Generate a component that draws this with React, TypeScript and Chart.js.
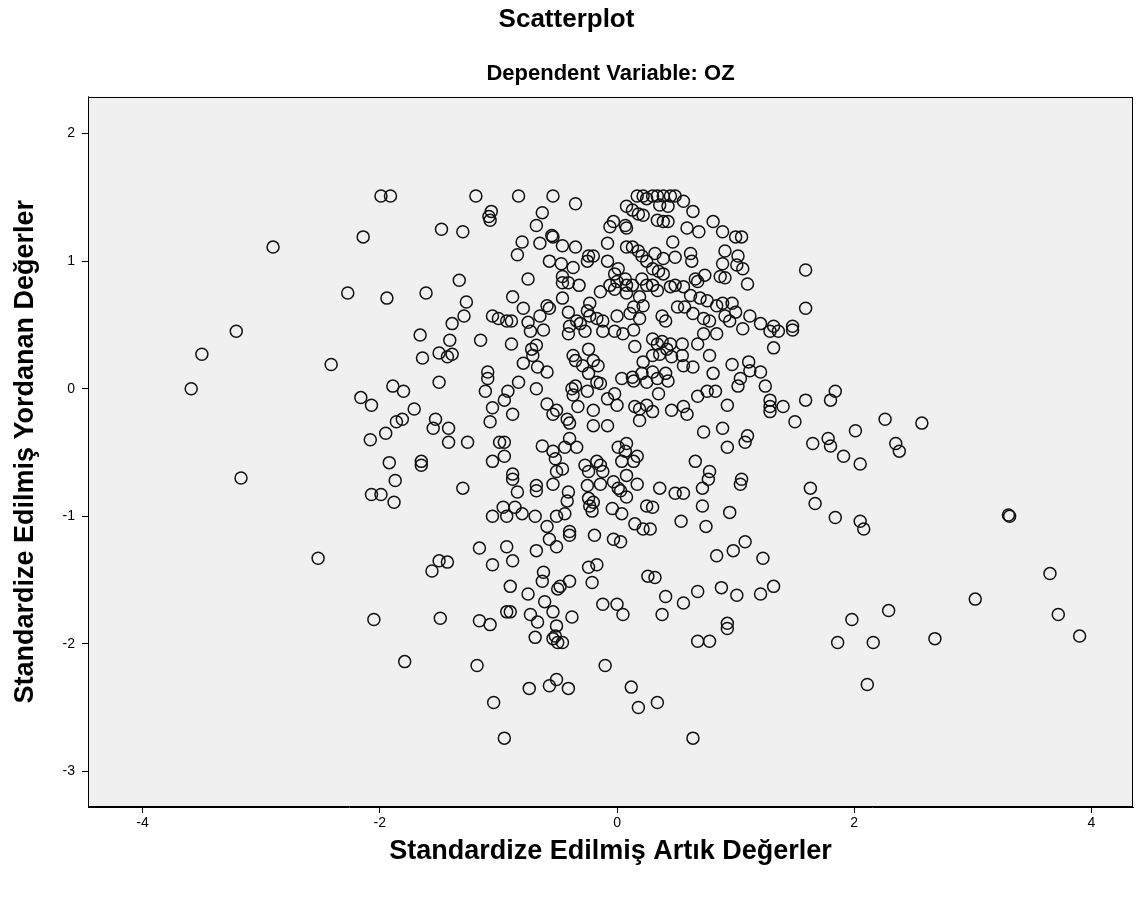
import React, { useEffect, useRef } from 'react';
import { Chart, registerables } from 'chart.js';

Chart.register(...registerables);

const chartTitle = 'Scatterplot';
const chartSubtitle = 'Dependent Variable: OZ';
const xAxisTitle = 'Standardize Edilmiş Artık Değerler';
const yAxisTitle = 'Standardize Edilmiş Yordanan Değerler';

const xTickValues = [-4, -2, 0, 2, 4];
const yTickValues = [-3, -2, -1, 0, 1, 2];
const xRange = [-4.46, 4.35];
const yRange = [-3.28, 2.29];

// [standardized residual, standardized predicted value]
const leftPoints: [number, number][] = [
  [-3.59, 0.0], [-3.5, 0.27], [-3.21, 0.45], [-3.17, -0.7], [-2.9, 1.11], [-2.52, -1.33], [-2.27, 0.75], [-2.41, 0.19],
  [-2.14, 1.19], [-2.16, -0.07], [-2.07, -0.13], [-2.08, -0.4], [-2.07, -0.83], [-1.99, -0.83], [-2.05, -1.81], [-1.99, 1.51],
  [-1.91, 1.51], [-1.94, 0.71], [-1.95, -0.35], [-1.92, -0.58], [-1.89, 0.02], [-1.87, -0.72], [-1.88, -0.89], [-1.86, -0.26],
  [-1.81, -0.24], [-1.8, -0.02], [-1.79, -2.14], [-1.71, -0.16],
  [-1.19, 1.51], [-1.06, 1.39], [-1.08, 1.35], [-1.07, 1.32], [-1.48, 1.25], [-1.3, 1.23], [-1.33, 0.85], [-1.61, 0.75],
  [-1.27, 0.68], [-1.29, 0.57], [-1.39, 0.51], [-1.05, 0.57], [-1.0, 0.55],
  [-1.66, 0.42], [-1.41, 0.38], [-1.15, 0.38], [-1.64, 0.24], [-1.5, 0.28], [-1.43, 0.25], [-1.39, 0.27], [-1.09, 0.13],
  [-1.09, 0.08], [-1.11, -0.02], [-1.5, 0.05],
  [-1.53, -0.24], [-1.55, -0.31], [-1.42, -0.31], [-1.42, -0.42], [-1.26, -0.42], [-1.05, -0.15], [-1.07, -0.26], [-1.65, -0.57],
  [-1.65, -0.6], [-1.05, -0.57], [-0.99, -0.42],
  [-1.3, -0.78], [-1.05, -1.0], [-1.16, -1.25], [-1.05, -1.38], [-1.5, -1.35], [-1.43, -1.36], [-1.56, -1.43], [-1.49, -1.8],
  [-1.16, -1.82], [-1.07, -1.85], [-1.18, -2.17], [-1.04, -2.46], [-0.95, -2.74],
];

const upperCenterPoints: [number, number][] = [
  [-0.83, 1.51], [-0.54, 1.51], [-0.35, 1.45], [-0.63, 1.38], [-0.68, 1.28], [-0.55, 1.2], [-0.54, 1.19], [-0.8, 1.15],
  [-0.84, 1.05], [-0.65, 1.14], [-0.46, 1.12], [-0.35, 1.11], [-0.24, 1.04], [-0.2, 1.04], [-0.25, 1.0], [-0.08, 1.14],
  [-0.03, 1.31], [-0.06, 1.27], [0.07, 1.28], [0.08, 1.26], [0.08, 1.43], [0.13, 1.4], [0.17, 1.51], [0.22, 1.51],
  [0.25, 1.49], [0.18, 1.37], [0.22, 1.36],
  [-0.57, 1.0], [-0.47, 0.98], [-0.37, 0.95], [-0.75, 0.86], [-0.46, 0.88], [-0.41, 0.83], [-0.46, 0.83], [-0.32, 0.81],
  [-0.88, 0.72], [-0.79, 0.63], [-0.59, 0.65], [-0.57, 0.63], [-0.46, 0.71], [-0.41, 0.6], [-0.65, 0.57], [-0.93, 0.53],
  [-0.89, 0.53], [-0.75, 0.52], [-0.34, 0.53], [-0.23, 0.67], [-0.14, 0.76], [-0.06, 0.81], [-0.02, 0.78], [0.0, 0.84],
  [-0.02, 0.9], [0.01, 0.94], [-0.08, 1.0], [0.08, 1.11], [0.13, 1.11], [0.18, 1.08], [0.21, 1.04], [0.25, 1.0],
  [0.07, 0.86], [0.08, 0.81], [0.13, 0.81], [0.08, 0.75], [0.21, 0.86], [0.25, 0.81], [0.19, 0.72], [0.22, 0.65],
  [0.14, 0.64], [0.11, 0.59], [-0.25, 0.61], [-0.23, 0.57], [-0.17, 0.55], [-0.12, 0.53], [0.0, 0.57], [0.19, 0.55],
  [-0.31, 0.51], [-0.4, 0.49],
  [0.3, 1.51], [0.34, 1.51], [0.39, 1.51], [0.45, 1.51], [0.49, 1.51], [0.56, 1.47], [0.64, 1.39], [0.36, 1.44],
  [0.43, 1.43], [0.34, 1.32], [0.39, 1.31], [0.43, 1.31], [0.59, 1.26], [0.69, 1.23], [0.81, 1.31], [0.89, 1.23],
  [1.0, 1.19], [1.05, 1.19], [0.47, 1.15], [0.32, 1.06], [0.39, 1.02], [0.62, 1.06], [0.63, 1.0], [0.49, 1.03],
  [0.91, 1.08], [0.89, 0.98], [1.02, 1.04], [1.01, 0.97], [1.06, 0.94], [0.74, 0.89], [0.87, 0.88], [0.91, 0.87],
  [1.1, 0.82], [0.66, 0.86], [0.68, 0.84], [0.35, 0.92], [0.39, 0.9], [0.3, 0.94], [0.3, 0.81], [0.34, 0.77],
  [0.45, 0.8], [0.49, 0.81], [0.56, 0.8], [0.62, 0.73], [0.7, 0.71], [0.76, 0.69], [0.51, 0.64], [0.57, 0.64],
  [0.64, 0.59], [0.84, 0.65], [0.89, 0.67], [0.97, 0.67], [0.91, 0.57], [1.0, 0.6], [1.12, 0.57], [0.38, 0.57],
  [0.41, 0.53], [0.73, 0.55], [0.78, 0.53], [0.95, 0.53], [1.21, 0.51], [1.32, 0.49], [1.48, 0.49], [1.59, 0.93],
  [1.59, 0.63],
];

const middleCenterPoints: [number, number][] = [
  [-0.89, 0.35], [-0.73, 0.45], [-0.62, 0.46], [-0.72, 0.31], [-0.68, 0.34], [-0.71, 0.26], [-0.79, 0.2], [-0.67, 0.17],
  [-0.59, 0.13], [-0.83, 0.05], [-0.92, -0.02], [-0.95, -0.09], [-0.88, -0.2], [-0.68, 0.0], [-0.59, -0.12], [-0.54, -0.2],
  [-0.51, -0.17], [-0.42, -0.24], [-0.4, -0.27], [-0.38, 0.0], [-0.37, -0.05], [-0.35, 0.02], [-0.33, -0.14], [-0.25, -0.02],
  [-0.37, 0.26], [-0.35, 0.22], [-0.41, 0.43], [-0.27, 0.45], [-0.24, 0.31], [-0.29, 0.18], [-0.2, 0.22], [-0.16, 0.18],
  [-0.24, 0.12], [-0.17, 0.05], [-0.14, 0.04], [-0.2, -0.17], [-0.2, -0.29], [-0.08, -0.29], [-0.08, -0.08], [-0.02, -0.04],
  [0.0, -0.13], [-0.12, 0.45], [-0.02, 0.45], [0.05, 0.43], [0.14, 0.46], [0.15, 0.33], [0.04, 0.08], [0.13, 0.09],
  [0.14, 0.06], [0.21, 0.12], [0.25, 0.05], [0.22, 0.21], [0.15, -0.14], [0.19, -0.16], [0.25, -0.13], [0.19, -0.25],
  [-0.95, -0.42], [-0.95, -0.53], [-0.88, -0.67], [-0.63, -0.45], [-0.54, -0.49], [-0.52, -0.55], [-0.44, -0.46], [-0.4, -0.39],
  [-0.34, -0.46], [-0.46, -0.63], [-0.51, -0.65], [-0.27, -0.6], [-0.17, -0.57], [-0.14, -0.6], [-0.12, -0.65], [-0.24, -0.65],
  [0.01, -0.46], [0.08, -0.43], [0.07, -0.49], [0.04, -0.57], [0.17, -0.53], [0.14, -0.57], [0.08, -0.68],
  [0.3, 0.39], [0.34, 0.35], [0.38, 0.37], [0.3, 0.26], [0.36, 0.27], [0.42, 0.31], [0.45, 0.35], [0.46, 0.25],
  [0.55, 0.35], [0.55, 0.26], [0.56, 0.18], [0.64, 0.17], [0.68, 0.35], [0.78, 0.26], [0.73, 0.43], [0.84, 0.43],
  [1.06, 0.47], [1.29, 0.45], [1.36, 0.45], [1.48, 0.46], [1.32, 0.32], [0.97, 0.19], [1.11, 0.21], [1.12, 0.14],
  [1.21, 0.13], [1.04, 0.08], [1.02, 0.02], [0.81, 0.12], [0.3, 0.13], [0.34, 0.08], [0.41, 0.12], [0.43, 0.06],
  [0.35, -0.04], [0.76, -0.02], [0.83, -0.02], [0.68, -0.06], [1.25, 0.02], [1.29, -0.09], [1.29, -0.14], [1.29, -0.18],
  [1.4, -0.14], [1.5, -0.26], [0.46, -0.17], [0.56, -0.14], [0.59, -0.2], [0.3, -0.18], [0.93, -0.13], [0.73, -0.34],
  [0.89, -0.31], [1.1, -0.37], [1.08, -0.42], [0.93, -0.46], [0.66, -0.57], [0.78, -0.65], [1.05, -0.71],
];

const lowerCenterPoints: [number, number][] = [
  [-0.88, -0.71], [-0.68, -0.76], [-0.68, -0.8], [-0.54, -0.75], [-0.41, -0.81], [-0.42, -0.88], [-0.25, -0.76], [-0.14, -0.75],
  [-0.03, -0.73], [0.01, -0.78], [0.17, -0.75], [-0.84, -0.81], [-0.96, -0.93], [-0.93, -1.0], [-0.86, -0.93], [-0.8, -0.98],
  [-0.69, -1.0], [-0.59, -1.08], [-0.51, -1.0], [-0.44, -0.98], [-0.24, -0.86], [-0.23, -0.92], [-0.21, -0.96], [-0.2, -0.89],
  [-0.04, -0.94], [0.04, -0.98], [0.08, -0.85], [0.03, -0.8], [0.15, -1.06], [0.22, -1.1], [0.25, -0.92], [-0.4, -1.12],
  [-0.4, -1.15], [-0.57, -1.18], [-0.51, -1.24], [-0.19, -1.15], [-0.03, -1.18], [0.03, -1.2], [-0.93, -1.24], [-0.88, -1.35],
  [-0.68, -1.27], [-0.24, -1.4], [-0.17, -1.38], [-0.21, -1.52], [-0.62, -1.44], [-0.63, -1.51], [-0.9, -1.55], [-0.75, -1.61],
  [-0.5, -1.57], [-0.48, -1.55], [-0.4, -1.51], [-0.61, -1.67], [-0.93, -1.75], [-0.9, -1.75], [-0.73, -1.77], [-0.54, -1.75],
  [-0.38, -1.79], [-0.67, -1.83], [-0.51, -1.86], [-0.12, -1.69], [0.0, -1.69], [0.05, -1.77], [0.26, -1.47],
  [0.36, -0.78], [0.49, -0.82], [0.56, -0.82], [0.72, -0.78], [0.77, -0.71], [1.04, -0.75], [0.3, -0.93], [0.72, -0.92],
  [0.54, -1.04], [0.75, -1.08], [0.95, -0.97], [0.28, -1.1], [0.84, -1.31], [0.98, -1.27], [1.08, -1.2], [1.23, -1.33],
  [0.32, -1.48], [0.41, -1.63], [0.56, -1.68], [0.68, -1.59], [0.88, -1.56], [1.01, -1.62], [1.21, -1.61], [1.32, -1.55],
  [0.38, -1.77], [0.93, -1.84],
  [-0.69, -1.95], [-0.54, -1.96], [-0.5, -1.99], [-0.46, -1.99], [-0.52, -1.94], [-0.1, -2.17], [-0.74, -2.35], [-0.57, -2.33],
  [-0.51, -2.28], [-0.41, -2.35], [0.12, -2.34], [0.18, -2.5], [0.68, -1.98], [0.78, -1.98], [0.93, -1.88], [0.34, -2.46],
  [0.64, -2.74],
];

const rightPoints: [number, number][] = [
  [1.59, -0.09], [1.8, -0.09], [1.84, -0.02], [1.78, -0.39], [1.8, -0.45], [1.65, -0.43], [1.91, -0.53], [2.01, -0.33],
  [2.05, -0.59], [2.26, -0.24], [2.35, -0.43], [2.38, -0.49], [2.57, -0.27], [1.63, -0.78], [1.67, -0.9], [1.84, -1.01],
  [2.05, -1.04], [2.08, -1.1], [3.3, -0.99], [3.31, -1.0], [3.65, -1.45], [3.72, -1.77], [3.9, -1.94], [3.02, -1.65],
  [2.29, -1.74], [1.98, -1.81], [1.86, -1.99], [2.16, -1.99], [2.68, -1.96], [2.11, -2.32],
];

const allPoints = [...leftPoints, ...upperCenterPoints, ...middleCenterPoints, ...lowerCenterPoints, ...rightPoints];

const FONT = "'Liberation Sans', Arial, sans-serif";

const plotFrame = {
  id: 'plotFrame',
  beforeDatasetsDraw(chart: any) {
    const { ctx, chartArea } = chart;
    ctx.save();
    ctx.fillStyle = '#F0F0F0';
    ctx.fillRect(chartArea.left, chartArea.top, chartArea.right - chartArea.left, chartArea.bottom - chartArea.top);
    ctx.restore();
  },
  afterDraw(chart: any) {
    const { ctx, chartArea } = chart;
    ctx.save();
    ctx.strokeStyle = '#000';
    ctx.lineWidth = 1;
    ctx.strokeRect(
      Math.round(chartArea.left) + 0.5,
      Math.round(chartArea.top) + 0.5,
      Math.round(chartArea.right - chartArea.left) - 1,
      Math.round(chartArea.bottom - chartArea.top) - 1
    );
    ctx.restore();
  },
};

export default function App() {
  const canvasRef = useRef<HTMLCanvasElement | null>(null);

  useEffect(() => {
    if (!canvasRef.current) return;
    const chart = new Chart(canvasRef.current, {
      type: 'scatter',
      data: {
        datasets: [
          {
            data: allPoints.map(([x, y]) => ({ x, y })),
            pointStyle: 'circle',
            pointRadius: 6,
            pointHoverRadius: 6,
            borderColor: '#111',
            borderWidth: 1.5,
            backgroundColor: 'rgba(0,0,0,0)',
          },
        ],
      },
      options: {
        animation: false,
        responsive: false,
        events: [],
        layout: { padding: { left: 0, right: 14, top: 0, bottom: 0 } },
        plugins: {
          legend: { display: false },
          tooltip: { enabled: false },
          title: {
            display: true,
            text: chartTitle,
            color: '#000',
            font: { family: FONT, size: 26, weight: 'bold' },
            padding: { top: 4, bottom: 10 },
          },
          subtitle: {
            display: true,
            text: chartSubtitle,
            color: '#000',
            fullSize: false,
            font: { family: FONT, size: 22, weight: 'bold' },
            padding: { top: 16, bottom: 9 },
          },
        },
        scales: {
          x: {
            type: 'linear',
            min: xRange[0],
            max: xRange[1],
            afterBuildTicks: (scale: any) => {
              scale.ticks = xTickValues.map((v) => ({ value: v }));
            },
            afterFit: (scale: any) => {
              scale.height = 93;
            },
            grid: { display: true, drawOnChartArea: false, drawTicks: true, tickLength: 6, color: '#000' },
            border: { display: true, color: '#000' },
            ticks: {
              color: '#000',
              padding: 2,
              maxRotation: 0,
              autoSkip: false,
              font: { family: FONT, size: 14 },
              callback: (v: any) => String(v),
            },
            title: {
              display: true,
              text: xAxisTitle,
              color: '#000',
              font: { family: FONT, size: 27, weight: 'bold' },
              padding: { top: 0, bottom: 32 },
            },
          },
          y: {
            type: 'linear',
            min: yRange[0],
            max: yRange[1],
            afterBuildTicks: (scale: any) => {
              scale.ticks = yTickValues.map((v) => ({ value: v }));
            },
            afterFit: (scale: any) => {
              scale.width = 88;
            },
            grid: { display: true, drawOnChartArea: false, drawTicks: true, tickLength: 6, color: '#000' },
            border: { display: true, color: '#000' },
            ticks: {
              color: '#000',
              padding: 7,
              autoSkip: false,
              font: { family: FONT, size: 14 },
              callback: (v: any) => String(v),
            },
            title: {
              display: true,
              text: yAxisTitle,
              color: '#000',
              font: { family: FONT, size: 27, weight: 'bold' },
              padding: { top: 9, bottom: 0 },
            },
          },
        },
      },
      plugins: [plotFrame],
    });
    return () => chart.destroy();
  }, []);

  return (
    <div style={{ position: 'fixed', left: 0, top: 0, width: 1147, height: 900, background: '#fff' }}>
      <canvas ref={canvasRef} width={1147} height={900} style={{ display: 'block' }} />
    </div>
  );
}
